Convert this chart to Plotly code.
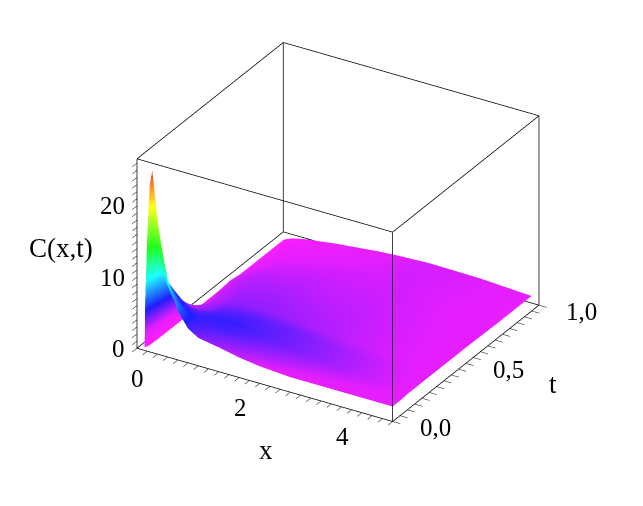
import plotly.graph_objects as go

x_vals = [0.15, 0.16, 0.2, 0.25, 0.3, 0.4, 0.5, 0.6, 0.8, 1, 1.2, 1.6, 2, 2.4, 3, 4, 5]
t_vals = [0, 0.03, 0.06, 0.1, 0.2, 0.3, 0.5, 0.7, 0.95]

c_t000 = [0.4, 7, 16, 23.5, 25.6, 19, 14.5, 11, 6.8, 4.8, 3.9, 3.4, 2.8, 2.4, 2.1, 2.1, 2.1]
c_t003 = [0.2, 4, 9, 14, 15.5, 12, 9.6, 8, 6.3, 5.2, 4.6, 4.2, 3.6, 3.2, 2.6, 2.2, 2.1]
c_t006 = [0.15, 2.5, 6, 10, 11.5, 9.5, 8.3, 7, 5.8, 5.2, 5, 4.9, 4.4, 3.9, 3.3, 2.6, 2.1]
c_t010 = [0.12, 1.5, 4, 7, 8.5, 7, 6.5, 5.7, 5, 5, 5.2, 5.2, 4.8, 4.4, 3.9, 3, 2.2]
c_t020 = [0.1, 0.3, 1.2, 3, 4.2, 3.8, 3.4, 3.4, 3.8, 4.2, 4.5, 4.6, 4.5, 4.3, 3.8, 3, 2.2]
c_t030 = [0.1, 0.15, 0.3, 0.6, 1, 1.8, 2.5, 2.9, 3.3, 3.6, 3.7, 3.7, 3.6, 3.4, 3.1, 2.6, 2.2]
c_t050 = [0.05, 0.15, 0.5, 0.9, 1.2, 2.2, 2.7, 2.9, 3.1, 3.2, 3.2, 3.2, 3.1, 3, 2.9, 2.5, 2.2]
c_t070 = [0.03, 0.1, 0.4, 0.7, 1, 1.5, 1.9, 2.1, 2.4, 2.5, 2.6, 2.7, 2.7, 2.7, 2.7, 2.4, 2.1]
c_t095 = [0.02, 0.05, 0.2, 0.35, 0.5, 0.7, 0.85, 1, 1.2, 1.4, 1.6, 1.9, 2.2, 2.4, 2.6, 2.5, 2.1]

x_range = [0, 5]
t_range = [0, 1]
z_range = [0, 26.6]

x_ticks = [0, 0.2, 0.4, 0.6, 0.8, 1, 1.2, 1.4, 1.6, 1.8, 2, 2.2, 2.4, 2.6, 2.8, 3, 3.2, 3.4, 3.6, 3.8, 4, 4.2, 4.4, 4.6, 4.8, 5]
t_ticks = [0, 0.05, 0.1, 0.15, 0.2, 0.25, 0.3, 0.35, 0.4, 0.45, 0.5, 0.55, 0.6, 0.65, 0.7, 0.75, 0.8, 0.85, 0.9, 0.95, 1]
z_ticks = list(range(0, 27))

x_label_vals = [0, 2, 4]
x_label_text = ['0', '2', '4']
t_label_vals = [0, 0.5, 1]
t_label_text = ['0,0', '0,5', '1,0']
z_label_vals = [0, 10, 20]
z_label_text = ['0', '10', '20']

hue_scale = [
    [0, '#ff1eff'],
    [0.09, '#e41eff'],
    [0.21, '#1e1eff'],
    [0.38, '#1effff'],
    [0.55, '#1eff1e'],
    [0.78, '#ffff1e'],
    [1, '#ff1e1e'],
]

fig = go.Figure(go.Surface(
    x=x_vals,
    y=t_vals,
    z=[c_t000, c_t003, c_t006, c_t010, c_t020, c_t030, c_t050, c_t070, c_t095],
    colorscale=hue_scale,
    cmin=0,
    cmax=26,
    showscale=False,
    lighting=dict(ambient=1, diffuse=0, specular=0, fresnel=0),
))

# box edges, mirror only draws the back ones
for a in x_range:
    for b in t_range:
        fig.add_trace(go.Scatter3d(x=[a, a], y=[b, b], z=z_range, mode='lines',
                                   line=dict(color='black', width=1.5), hoverinfo='skip'))
for a in x_range:
    for b in z_range:
        fig.add_trace(go.Scatter3d(x=[a, a], y=t_range, z=[b, b], mode='lines',
                                   line=dict(color='black', width=1.5), hoverinfo='skip'))
for a in t_range:
    for b in z_range:
        fig.add_trace(go.Scatter3d(x=x_range, y=[a, a], z=[b, b], mode='lines',
                                   line=dict(color='black', width=1.5), hoverinfo='skip'))

def axis(rng, ticks):
    return dict(
        range=rng,
        title=dict(text=''),
        tickmode='array',
        tickvals=ticks,
        showticklabels=False,
        ticks='outside',
        ticklen=9,
        tickwidth=1.5,
        tickcolor='#333333',
        showgrid=False,
        zeroline=False,
        showbackground=False,
        showline=False,
        showspikes=False,
    )

tick_font = dict(family='Liberation Serif', size=25, color='black')
label_font = dict(family='Liberation Serif', size=27, color='black')

# tick labels sit on the data coordinates so the scene can place them
scene_labels = []
for v, s in zip(x_label_vals, x_label_text):
    scene_labels.append(dict(x=v, y=0, z=0, text=s, showarrow=False, font=tick_font,
                             xanchor='center', yanchor='middle', xshift=1, yshift=-30))
for v, s in zip(t_label_vals, t_label_text):
    scene_labels.append(dict(x=5, y=v, z=0, text=s, showarrow=False, font=tick_font,
                             xanchor='center', yanchor='middle', xshift=43, yshift=-6))
for v, s in zip(z_label_vals, z_label_text):
    scene_labels.append(dict(x=0, y=0, z=v, text=s, showarrow=False, font=tick_font,
                             xanchor='right', yanchor='middle', xshift=-10, yshift=0))

fig.update_layout(
    width=643,
    height=506,
    margin=dict(l=0, r=0, t=0, b=0),
    paper_bgcolor='white',
    showlegend=False,
    scene=dict(
        domain=dict(x=[0.051, 1], y=[0.079, 1]),
        xaxis=axis(x_range, x_ticks),
        yaxis=axis(t_range, t_ticks),
        zaxis=axis(z_range, z_ticks),
        aspectmode='manual',
        aspectratio=dict(x=1.28, y=1.22, z=0.925),
        annotations=scene_labels,
        camera=dict(
            projection=dict(type='orthographic'),
            up=dict(x=0, y=0, z=1),
            center=dict(x=0.039, y=0.002, z=-0.034),
            eye=dict(x=9.089, y=-15.068, z=9.516),
        ),
    ),
    annotations=[
        dict(text='x', x=258 / 643, y=1 - 442 / 506, xref='paper', yref='paper', xanchor='center', yanchor='middle', showarrow=False, font=label_font),
        dict(text='t', x=545 / 643, y=1 - 376 / 506, xref='paper', yref='paper', xanchor='center', yanchor='middle', showarrow=False, font=label_font),
        dict(text='C(x,t)', x=53 / 643, y=1 - 240 / 506, xref='paper', yref='paper', xanchor='center', yanchor='middle', showarrow=False, font=label_font),
    ],
)

fig.write_html("out.html")
